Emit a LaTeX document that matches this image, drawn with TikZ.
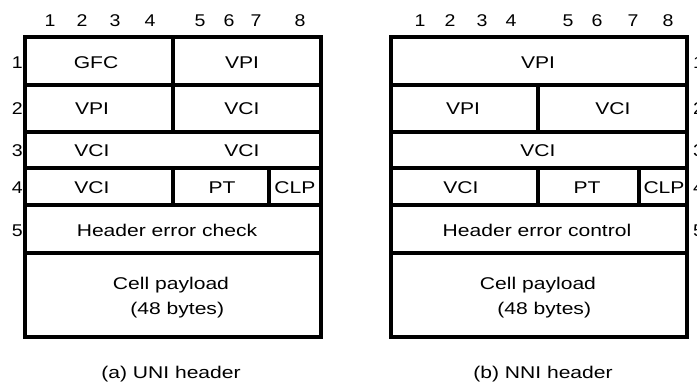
\documentclass[tikz,border=0pt]{standalone}
\usepackage{fontspec}
\setmainfont{Liberation Sans}
\usetikzlibrary{positioning}

\begin{document}
\begin{tikzpicture}[x=1pt,y=-1pt,
  cell/.style={line width=3.5pt},
  lbl/.style={font=\fontsize{17}{25}\selectfont,xscale=1.24,inner sep=0pt,text height=12.2pt,text depth=0pt},
  num/.style={font=\fontsize{17}{25}\selectfont,xscale=1.15,inner sep=0pt,text height=12.2pt,text depth=0pt}]
\useasboundingbox (0,0) rectangle (697,383);
\clip (0,0) rectangle (697,383);

% UNI header
\draw[cell] (25,37) rectangle (321,337);
\draw[cell] (25,85) -- (321,85);
\draw[cell] (25,132) -- (321,132);
\draw[cell] (25,168) -- (321,168);
\draw[cell] (25,205) -- (321,205);
\draw[cell] (25,253) -- (321,253);
\draw[cell] (173,37) -- (173,132);
\draw[cell] (173,168) -- (173,205);
\draw[cell] (269,168) -- (269,205);

\node[lbl] (uniGFC) at (96,62) {GFC};
\node[lbl] (uniVPIa) at (242,62) {VPI};
\node[lbl] (uniVPIb) at (92,108) {VPI};
\node[lbl] (uniVCIa) at (242,108) {VCI};
\node[lbl] (uniVCIb) at (92,150) {VCI};
\node[lbl] (uniVCIc) at (242,150) {VCI};
\node[lbl] (uniVCId) at (92,187) {VCI};
\node[lbl] (uniPT) at (222,187) {PT};
\node[lbl] (uniCLP) at (295,187) {CLP};
\node[lbl] (uniHEC) at (167,230) {Header error check};
\node[lbl,align=center] (uniPay) at (171,308.5) {Cell payload\\\hspace*{10pt}(48 bytes)};
\node[lbl] (uniCap) at (171,372) {(a) UNI header};

\node[num] (uniC1) at (50,20) {1};
\node[num] (uniC2) at (82,20) {2};
\node[num] (uniC3) at (115,20) {3};
\node[num] (uniC4) at (150,20) {4};
\node[num] (uniC5) at (200,20) {5};
\node[num] (uniC6) at (229,20) {6};
\node[num] (uniC7) at (256,20) {7};
\node[num] (uniC8) at (300,20) {8};

\node[num,anchor=east] (uniR1) at (23,62) {1};
\node[num,anchor=east] (uniR2) at (23,108) {2};
\node[num,anchor=east] (uniR3) at (23,150) {3};
\node[num,anchor=east] (uniR4) at (23,187) {4};
\node[num,anchor=east] (uniR5) at (23,230) {5};

% NNI header
\draw[cell] (391,37) rectangle (687,337);
\draw[cell] (391,85) -- (687,85);
\draw[cell] (391,132) -- (687,132);
\draw[cell] (391,168) -- (687,168);
\draw[cell] (391,205) -- (687,205);
\draw[cell] (391,253) -- (687,253);
\draw[cell] (538,85) -- (538,132);
\draw[cell] (538,168) -- (538,205);
\draw[cell] (639,168) -- (639,205);

\node[lbl] (nniVPIa) at (538,62) {VPI};
\node[lbl] (nniVPIb) at (463,108) {VPI};
\node[lbl] (nniVCIa) at (613,108) {VCI};
\node[lbl] (nniVCIb) at (538,150) {VCI};
\node[lbl] (nniVCIc) at (461,187) {VCI};
\node[lbl] (nniPT) at (587,187) {PT};
\node[lbl] (nniCLP) at (664,187) {CLP};
\node[lbl] (nniHEC) at (537,230) {Header error control};
\node[lbl,align=center] (nniPay) at (538,308.5) {Cell payload\\\hspace*{10pt}(48 bytes)};
\node[lbl] (nniCap) at (543,372) {(b) NNI header};

\node[num] (nniC1) at (420,20) {1};
\node[num] (nniC2) at (450,20) {2};
\node[num] (nniC3) at (482,20) {3};
\node[num] (nniC4) at (511,20) {4};
\node[num] (nniC5) at (568,20) {5};
\node[num] (nniC6) at (597,20) {6};
\node[num] (nniC7) at (633,20) {7};
\node[num] (nniC8) at (668,20) {8};

% row numbers run past the right edge, as in the original
\node[num,anchor=west] (nniR1) at (693,62) {1};
\node[num,anchor=west] (nniR2) at (693,108) {2};
\node[num,anchor=west] (nniR3) at (693,150) {3};
\node[num,anchor=west] (nniR4) at (693,187) {4};
\node[num,anchor=west] (nniR5) at (693,230) {5};

\end{tikzpicture}
\end{document}
